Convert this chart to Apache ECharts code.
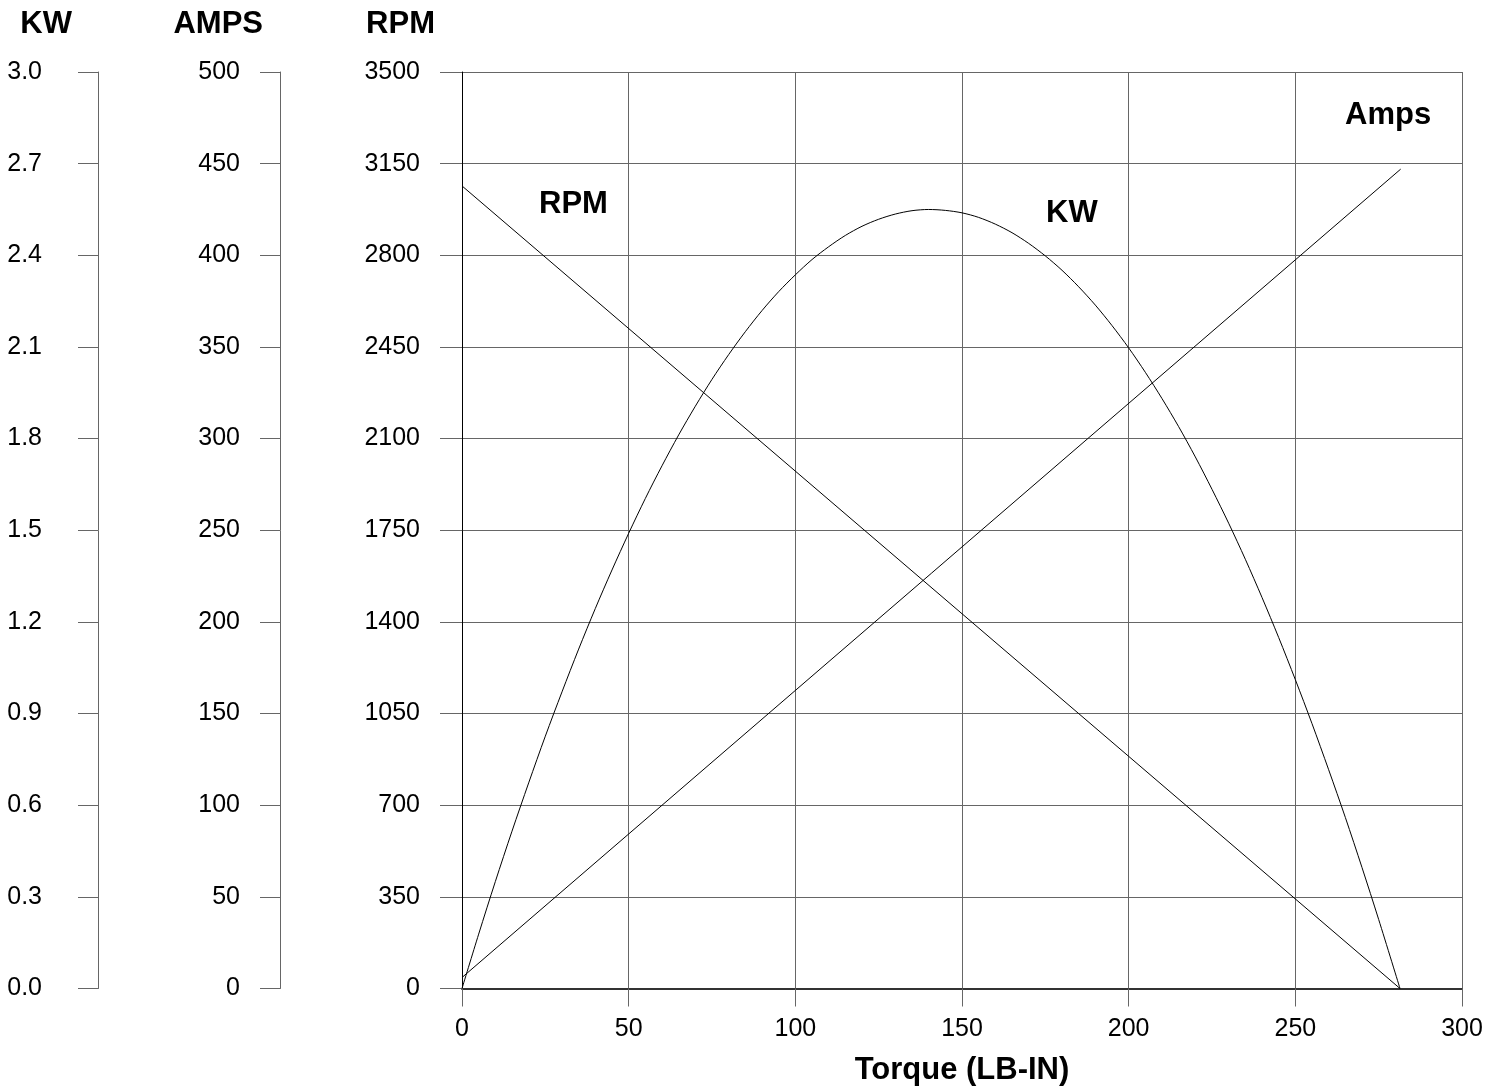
<!DOCTYPE html>
<html>
<head>
<meta charset="utf-8">
<script src="https://cdn.jsdelivr.net/npm/echarts@6/dist/echarts.min.js"></script>
<style>
  html, body { margin: 0; padding: 0; background: #fff; }
  #main { width: 1502px; height: 1091px; }
</style>
</head>
<body>
<div id="main"></div>
<script>
// torque (lb-in) vs KW, every 5 lb-in
var kwTorque = [0, 5, 10, 15, 20, 25, 30, 35, 40, 45, 50, 55, 60, 65, 70, 75, 80, 85, 90, 95,
                100, 105, 110, 115, 120, 125, 130, 135, 140, 145, 150, 155, 160, 165, 170, 175,
                180, 185, 190, 195, 200, 205, 210, 215, 220, 225, 230, 235, 240, 245, 250, 255,
                260, 265, 270, 275, 281.4];
var kwValues = [0, 0.178, 0.350, 0.515, 0.673, 0.826, 0.971, 1.111, 1.244, 1.370, 1.490, 1.604,
                1.711, 1.812, 1.906, 1.994, 2.075, 2.150, 2.219, 2.281, 2.336, 2.386, 2.428, 2.465,
                2.495, 2.518, 2.535, 2.546, 2.550, 2.547, 2.539, 2.524, 2.502, 2.474, 2.439, 2.398,
                2.351, 2.297, 2.237, 2.170, 2.097, 2.017, 1.931, 1.839, 1.740, 1.634, 1.523, 1.405,
                1.280, 1.149, 1.011, 0.867, 0.716, 0.560, 0.396, 0.226, 0];
// straight lines: end points
var rpmTorque = [0, 281.4];
var rpmValues = [3065, 0];
var ampsTorque = [0, 281.6];
var ampsValues = [6, 447];

function pairs(xs, ys) {
    var out = [];
    for (var i = 0; i < xs.length; i++) out.push([xs[i], ys[i]]);
    return out;
}

var FONT = "'Liberation Sans', Arial, Helvetica, sans-serif";
var GRAY = '#666';
var BOLD = 31;

function plain(v) { return String(v); }

function sideAxis(name, max, interval, offset, margin, padRight, fmt) {
    return {
        type: 'value',
        position: 'left',
        offset: offset,
        min: 0, max: max, interval: interval,
        name: name,
        nameLocation: 'end',
        nameGap: 48,
        nameTextStyle: {
            fontFamily: FONT, fontSize: BOLD, fontWeight: 'bold', color: '#000',
            align: 'right', verticalAlign: 'middle', padding: [0, padRight, 0, 0]
        },
        axisLine: { show: true, onZero: false, lineStyle: { color: GRAY, width: 1 } },
        axisTick: { show: true, inside: false, length: 20, lineStyle: { color: GRAY } },
        axisLabel: {
            margin: margin, fontFamily: FONT, fontSize: 25, color: '#000',
            formatter: fmt
        },
        splitLine: { show: false }
    };
}

var chart = echarts.init(document.getElementById('main'));
var option = {
    animation: false,
    backgroundColor: '#fff',
    grid: { left: 462, right: 40, top: 72, bottom: 101, containLabel: false },
    xAxis: {
        type: 'value',
        min: 0, max: 300, interval: 50,
        name: 'Torque (LB-IN)',
        nameLocation: 'middle',
        nameGap: 82,
        nameTextStyle: {
            fontFamily: FONT, fontSize: BOLD, fontWeight: 'bold', color: '#000',
            verticalAlign: 'middle'
        },
        axisLine: { show: true, onZero: false, lineStyle: { color: '#333', width: 2 } },
        axisTick: { show: true, length: 18, lineStyle: { color: GRAY } },
        axisLabel: { margin: 28, fontFamily: FONT, fontSize: 25, color: '#000', formatter: plain },
        splitLine: { show: true, lineStyle: { color: GRAY, width: 1 } }
    },
    yAxis: [
        sideAxis('KW', 3, 0.3, 364, 56, 26, function (v) { return v.toFixed(1); }),
        sideAxis('AMPS', 500, 50, 182, 40, 17, plain),
        {
            type: 'value',
            position: 'left',
            min: 0, max: 3500, interval: 350,
            name: 'RPM',
            nameLocation: 'end',
            nameGap: 48,
            nameTextStyle: {
                fontFamily: FONT, fontSize: BOLD, fontWeight: 'bold', color: '#000',
                align: 'right', verticalAlign: 'middle', padding: [0, 27, 0, 0]
            },
            axisLine: { show: true, onZero: false, lineStyle: { color: '#000', width: 1 } },
            axisTick: { show: true, length: 22, lineStyle: { color: GRAY } },
            axisLabel: { margin: 42, fontFamily: FONT, fontSize: 25, color: '#000', formatter: plain },
            splitLine: { show: true, lineStyle: { color: GRAY, width: 1 } }
        }
    ],
    series: [
        {
            name: 'KW', type: 'line', yAxisIndex: 0,
            data: pairs(kwTorque, kwValues),
            smooth: 0.3, showSymbol: false,
            lineStyle: { color: '#000', width: 1 }
        },
        {
            name: 'Amps', type: 'line', yAxisIndex: 1,
            data: pairs(ampsTorque, ampsValues),
            showSymbol: false,
            lineStyle: { color: '#000', width: 1 }
        },
        {
            name: 'RPM', type: 'line', yAxisIndex: 2,
            data: pairs(rpmTorque, rpmValues),
            showSymbol: false,
            lineStyle: { color: '#000', width: 1 }
        }
    ],
    graphic: [
        { type: 'text', left: 539, top: 189, style: { text: 'RPM', font: 'bold ' + BOLD + 'px ' + FONT, fill: '#000' } },
        { type: 'text', left: 1046, top: 198, style: { text: 'KW', font: 'bold ' + BOLD + 'px ' + FONT, fill: '#000' } },
        { type: 'text', left: 1345, top: 100, style: { text: 'Amps', font: 'bold ' + BOLD + 'px ' + FONT, fill: '#000' } }
    ]
};
chart.setOption(option);
window.onresize = chart.resize;
</script>
</body>
</html>
